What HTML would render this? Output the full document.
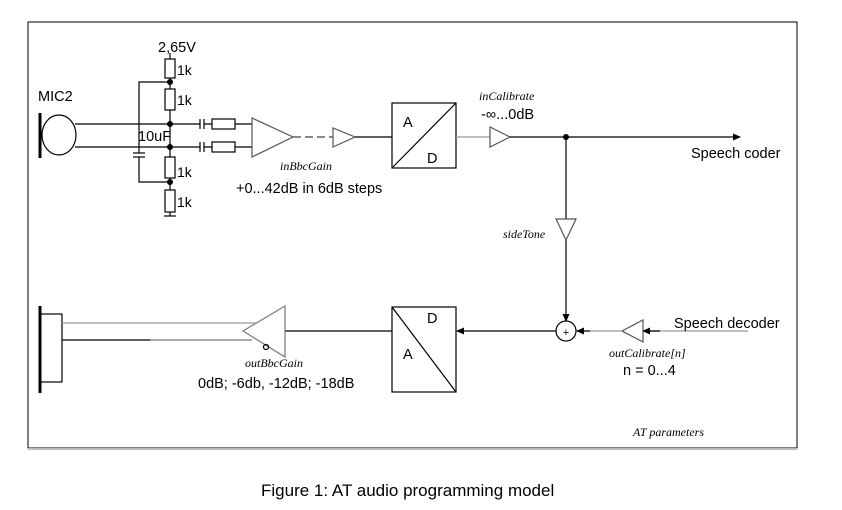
<!DOCTYPE html>
<html><head><style>
body{margin:0;background:#fff}
svg{display:block}
.s{font-family:"Liberation Sans",sans-serif;font-size:14.5px;fill:#000}
.i{font-family:"Liberation Serif",serif;font-style:italic;font-size:12px;fill:#000}
</style></head><body>
<svg width="842" height="510" viewBox="0 0 842 510" xmlns="http://www.w3.org/2000/svg">
<defs><marker id="a" markerWidth="8" markerHeight="8" refX="7" refY="4" orient="auto" markerUnits="userSpaceOnUse"><path d="M0,0.5L8,4L0,7.5z" fill="#000"/></marker></defs>
<rect x="28" y="22" width="769" height="426" fill="none" stroke="#000" stroke-width="1"/>
<line x1="28" y1="449" x2="797" y2="449" stroke="#bbb" stroke-width="2"/>
<g stroke="#000" stroke-width="1.2" fill="none">
<line x1="40" y1="113" x2="40" y2="158" stroke-width="3"/>
<ellipse cx="59" cy="135" rx="17" ry="20"/>
<line x1="75" y1="124" x2="200" y2="124"/>
<line x1="75" y1="147" x2="200" y2="147"/>
<line x1="170" y1="53" x2="170" y2="216"/>
<line x1="164" y1="216" x2="176" y2="216"/>
<rect x="165" y="59" width="10" height="19" fill="#fff"/>
<rect x="165" y="89" width="10" height="21" fill="#fff"/>
<rect x="165" y="157" width="10" height="21" fill="#fff"/>
<rect x="165" y="190" width="10" height="22" fill="#fff"/>
<polyline points="170,82 139,82 139,153"/>
<polyline points="170,182 139,182 139,157"/>
<line x1="133" y1="153" x2="145" y2="153"/>
<line x1="133" y1="157" x2="145" y2="157"/>
<line x1="200" y1="119" x2="200" y2="129"/><line x1="204" y1="119" x2="204" y2="129"/>
<line x1="200" y1="142" x2="200" y2="152"/><line x1="204" y1="142" x2="204" y2="152"/>
<line x1="204" y1="124" x2="252" y2="124"/><line x1="204" y1="147" x2="252" y2="147"/>
<rect x="212" y="119" width="23" height="10" fill="#fff"/>
<rect x="212" y="142" width="23" height="10" fill="#fff"/>
<polygon points="252,118 252,157 293,137" stroke="#555"/>
<line x1="293" y1="137" x2="333" y2="137" stroke="#888" stroke-dasharray="8,4" stroke-width="2"/>
<polygon points="333,128 333,147 355,137" stroke="#555"/>
<line x1="355" y1="137" x2="392" y2="137"/>
<rect x="392" y="103" width="64" height="65"/>
<line x1="392" y1="168" x2="456" y2="103"/>
<line x1="456" y1="137" x2="490" y2="137" stroke="#999"/>
<polygon points="490,127 490,147 510,137" stroke="#555"/>
<line x1="510" y1="137" x2="740" y2="137" marker-end="url(#a)"/>
<line x1="566" y1="137" x2="566" y2="219"/>
<polygon points="556,219 576,219 566,240" stroke="#555"/>
<line x1="566" y1="240" x2="566" y2="321" marker-end="url(#a)"/>
<circle cx="566" cy="331" r="10"/>
<line x1="748" y1="331" x2="643" y2="331" stroke="#999"/>
<line x1="660" y1="331" x2="643" y2="331" marker-end="url(#a)"/>
<polygon points="643,320 643,342 622,331" stroke="#555"/>
<line x1="622" y1="331" x2="577" y2="331" stroke="#999"/>
<line x1="590" y1="331" x2="577" y2="331" marker-end="url(#a)"/>
<line x1="556" y1="331" x2="457" y2="331" marker-end="url(#a)"/>
<rect x="392" y="307" width="64" height="85"/>
<line x1="392" y1="307" x2="456" y2="392"/>
<line x1="392" y1="331" x2="285" y2="331"/>
<polygon points="285,306 285,357 243,331" stroke="#777"/>
<circle cx="266" cy="347" r="2.5"/>
<line x1="40" y1="306" x2="40" y2="393" stroke-width="3"/>
<rect x="40" y="314" width="22" height="68"/>
<line x1="62" y1="323" x2="256" y2="323" stroke="#999"/>
<line x1="62" y1="340" x2="150" y2="340"/>
<line x1="150" y1="340" x2="252" y2="340" stroke="#777"/>
</g>
<g fill="#000">
<circle cx="170" cy="82" r="3"/><circle cx="170" cy="124" r="3"/>
<circle cx="170" cy="147" r="3"/><circle cx="170" cy="182" r="3"/>
<circle cx="566" cy="137" r="3"/>
</g>
<text x="566" y="336" text-anchor="middle" style="font-family:'Liberation Sans';font-size:11px">+</text>
<text class="s" x="38" y="101">MIC2</text>
<text class="s" x="158" y="52">2,65V</text>
<text class="s" x="177" y="75" style="font-size:14px">1k</text>
<text class="s" x="177" y="105" style="font-size:14px">1k</text>
<text class="s" x="177" y="177" style="font-size:14px">1k</text>
<text class="s" x="177" y="207" style="font-size:14px">1k</text>
<text class="s" x="138" y="141">10uF</text>
<text class="s" x="403" y="127">A</text>
<text class="s" x="427" y="163">D</text>
<text class="s" x="427" y="323">D</text>
<text class="s" x="403" y="359">A</text>
<text class="i" x="280" y="170">inBbcGain</text>
<text class="s" x="236" y="193">+0...42dB in 6dB steps</text>
<text class="i" x="479" y="100">inCalibrate</text>
<text class="s" x="481" y="119">-∞...0dB</text>
<text class="s" x="691" y="158">Speech coder</text>
<text class="i" x="503" y="238">sideTone</text>
<text class="s" x="674" y="328">Speech decoder</text>
<text class="i" x="609" y="357">outCalibrate[n]</text>
<text class="s" x="623" y="375">n = 0...4</text>
<text class="i" x="245" y="367">outBbcGain</text>
<text class="s" x="198" y="388">0dB; -6db, -12dB; -18dB</text>
<text class="i" x="633" y="436">AT parameters</text>
<text class="s" x="261" y="496" style="font-size:17px">Figure 1: AT audio programming model</text>
</svg>
</body></html>
